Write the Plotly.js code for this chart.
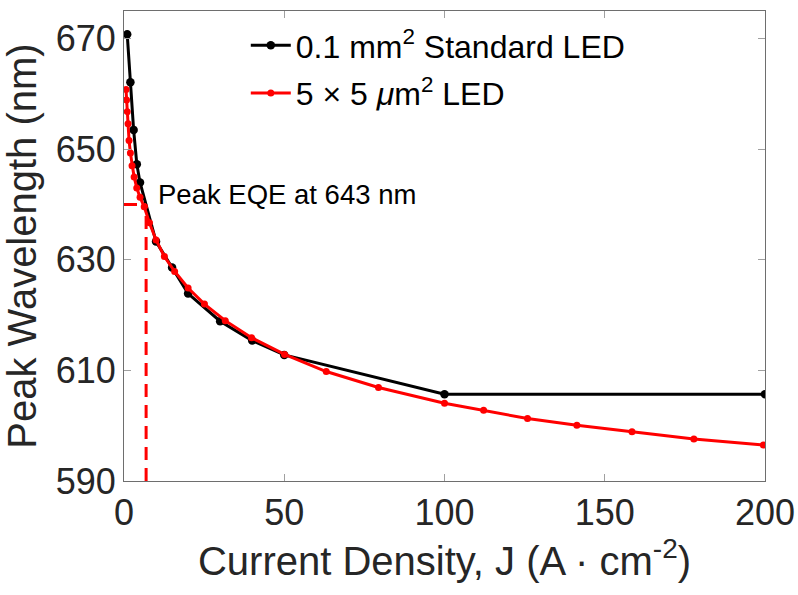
<!DOCTYPE html>
<html>
<head>
<meta charset="utf-8">
<script src="https://cdn.plot.ly/plotly-3.0.1.min.js"></script>
<style>
  html, body { margin: 0; padding: 0; background: #ffffff; }
  #chart { width: 798px; height: 595px; }
</style>
</head>
<body>
<div id="chart"></div>
<script>
// Peak emission wavelength versus injected current density for two LED sizes
const standardJ = [1, 2, 3, 4, 5, 10, 15, 20, 30, 40, 50, 100, 200];
const standardPeak = [670.8, 662.1, 653.5, 647.3, 644.0, 633.3, 628.6, 623.9, 618.9, 615.4, 612.8, 605.7, 605.7];

const microJ = [0.63, 0.79, 1.0, 1.26, 1.58, 2.0, 2.51, 3.16, 3.98, 5.01, 6.31, 7.94, 10.0,
                12.6, 15.8, 20.0, 25.1, 31.6, 39.8, 50.1, 63.1, 79.4, 100.0,
                112.2, 125.9, 141.3, 158.5, 177.8, 199.5];
const microPeak = [660.8, 658.9, 656.8, 654.6, 651.6, 649.3, 647.0, 645.0, 643.0, 641.3, 639.6, 636.7, 633.6,
                   630.6, 627.9, 624.9, 622.0, 619.0, 615.9, 612.9, 609.8, 606.9, 604.05,
                   602.8, 601.3, 600.1, 598.9, 597.6, 596.5];

// Marker for the operating point of peak EQE
const eqeJ = 6.9;
const eqePeak = 640;
const eqeLabel = 'Peak EQE at 643 nm';

const seriesNames = ['0.1 mm<sup>2</sup> Standard LED', '5 \u00d7 5 <i>\u03bc</i>m<sup>2</sup> LED'];

const axisRangeX = [0, 200];
const axisRangeY = [590, 675];

const font = 'Liberation Sans, Arial, Helvetica, sans-serif';
const textColor = '#262626';

const traces = [
  {
    x: standardJ, y: standardPeak,
    name: seriesNames[0],
    legendgroup: 'a',
    mode: 'lines+markers',
    line: { color: '#000000', width: 3 },
    marker: { color: '#000000', size: 8.5 }
  },
  {
    x: microJ, y: microPeak,
    name: seriesNames[1],
    legendgroup: 'b',
    mode: 'lines+markers',
    line: { color: '#ff0000', width: 3 },
    marker: { color: '#ff0000', size: 7 }
  }
];

const axisCommon = {
  showgrid: false,
  zeroline: false,
  showline: true,
  linecolor: '#6e6e6e',
  linewidth: 1,
  mirror: 'ticks',
  ticks: 'inside',
  ticklen: 7,
  tickwidth: 1,
  tickcolor: '#a0a0a0',
  tickfont: { family: font, size: 36, color: textColor }
};

const layout = {
  width: 798,
  height: 595,
  margin: { l: 124, r: 33, t: 11, b: 114 },
  paper_bgcolor: '#ffffff',
  plot_bgcolor: '#ffffff',
  showlegend: true,
  legend: {
    x: 0.19, y: 0.985, xanchor: 'left', yanchor: 'top',
    bgcolor: 'rgba(0,0,0,0)',
    borderwidth: 0,
    font: { family: font, size: 32, color: '#000000' },
    itemwidth: 40,
    traceorder: 'grouped',
    tracegroupgap: 3
  },
  xaxis: Object.assign({}, axisCommon, {
    range: axisRangeX,
    tickmode: 'linear', tick0: 0, dtick: 50,
    automargin: 'height',
    title: { text: 'Current Density, J (A \u00b7 cm<sup>-2</sup>)', standoff: 14,
             font: { family: font, size: 40, color: textColor } }
  }),
  yaxis: Object.assign({}, axisCommon, {
    range: axisRangeY,
    tickmode: 'linear', tick0: 590, dtick: 20,
    title: { text: 'Peak Wavelength (nm)', font: { family: font, size: 40, color: textColor } }
  }),
  shapes: [
    { type: 'line', xref: 'x', yref: 'y', x0: eqeJ, x1: eqeJ, y0: axisRangeY[0], y1: eqePeak,
      line: { color: '#ff0000', width: 3, dash: '13px,8px' } },
    { type: 'line', xref: 'x', yref: 'y', x0: 0, x1: eqeJ, y0: eqePeak, y1: eqePeak,
      line: { color: '#ff0000', width: 3, dash: '13px,8px' } }
  ],
  annotations: [
    { x: 9.9, y: 641.8, xref: 'x', yref: 'y', xanchor: 'left', yanchor: 'middle',
      text: eqeLabel, showarrow: false,
      font: { family: font, size: 27.5, color: '#000000' } }
  ]
};

Plotly.newPlot('chart', traces, layout, { staticPlot: true, displayModeBar: false });
</script>
</body>
</html>
